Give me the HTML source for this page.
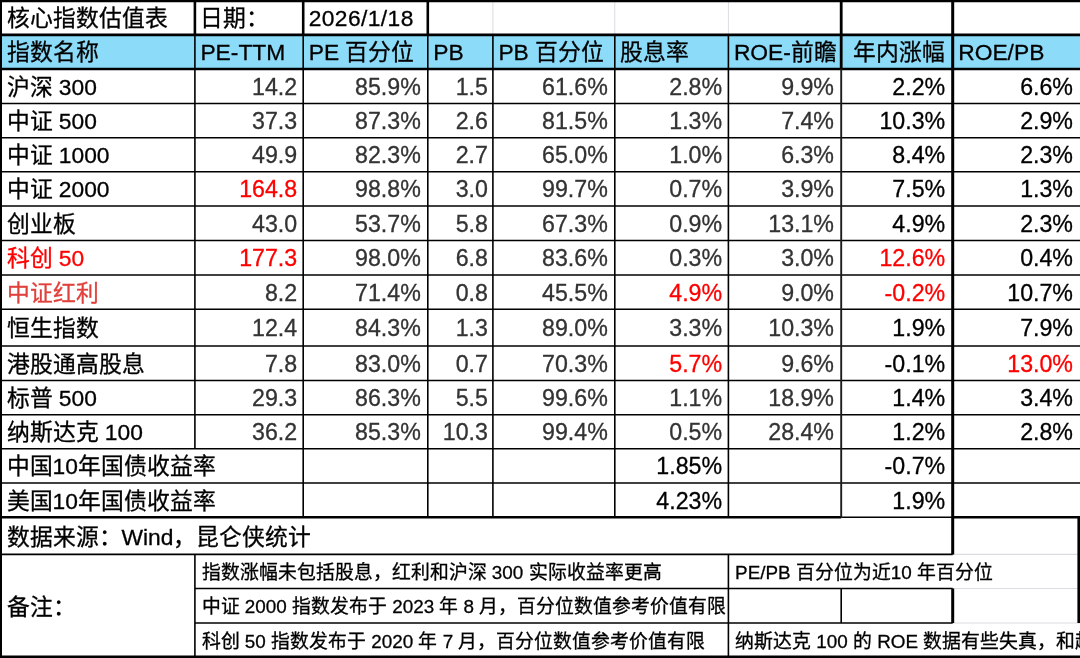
<!DOCTYPE html>
<html lang="zh-CN">
<head>
<meta charset="utf-8">
<title>核心指数估值表</title>
<style>
html,body{margin:0;padding:0;background:#ffffff;}
body{width:1080px;height:658px;overflow:hidden;position:relative;font-family:"Liberation Sans",sans-serif;color:#000;}
#sheet{position:absolute;left:0;top:0;width:1080px;height:658px;overflow:hidden;background:#fff;-webkit-font-smoothing:antialiased;}
#txt{position:absolute;left:0;top:0;width:1080px;height:658px;will-change:transform;-webkit-text-stroke:0.3px;}
#hdr{position:absolute;left:0;top:34.85px;width:1080px;height:34.15px;background:#8cdcf9;}
.c{position:absolute;white-space:nowrap;box-sizing:border-box;padding:0 6.0px 0 5.5px;font-size:22.8px;overflow:visible;}
.r{text-align:right;font-size:23.2px;}
.m{text-align:center;}
.n{font-size:18.85px;}
.g{color:#333333;}
.d{color:#ff0000;}
.e{color:#e0403c;}
svg{position:absolute;left:0;top:0;}
</style>
</head>
<body>
<div id="sheet">
<div id="hdr"></div>
<div id="txt">
<div class="c" style="left:1.00px;top:1.50px;width:193.90px;height:33.95px;line-height:33.95px;">核心指数估值表</div>
<div class="c" style="left:194.90px;top:1.50px;width:108.30px;height:33.95px;line-height:33.95px;">日期：</div>
<div class="c" style="left:303.20px;top:1.50px;width:124.60px;height:33.95px;line-height:33.95px;letter-spacing:.4px;">2026/1/18</div>
<div class="c" style="left:1.00px;top:35.45px;width:193.90px;height:34.15px;line-height:34.15px;">指数名称</div>
<div class="c" style="left:194.90px;top:35.45px;width:108.30px;height:34.15px;line-height:34.15px;">PE-TTM</div>
<div class="c" style="left:303.20px;top:35.45px;width:124.60px;height:34.15px;line-height:34.15px;">PE 百分位</div>
<div class="c" style="left:427.80px;top:35.45px;width:65.10px;height:34.15px;line-height:34.15px;">PB</div>
<div class="c" style="left:492.90px;top:35.45px;width:121.90px;height:34.15px;line-height:34.15px;">PB 百分位</div>
<div class="c" style="left:614.80px;top:35.45px;width:113.60px;height:34.15px;line-height:34.15px;">股息率</div>
<div class="c" style="left:728.40px;top:35.45px;width:112.80px;height:34.15px;line-height:34.15px;">ROE-前瞻</div>
<div class="c r" style="left:839.70px;top:35.45px;width:111.50px;height:34.15px;line-height:34.15px;font-size:22.8px;">年内涨幅</div>
<div class="c" style="left:952.70px;top:35.45px;width:133.30px;height:34.15px;line-height:34.15px;">ROE/PB</div>
<div class="c" style="left:1.00px;top:69.60px;width:193.90px;height:34.60px;line-height:34.60px;">沪深 300</div>
<div class="c r g" style="left:194.90px;top:69.60px;width:108.30px;height:34.60px;line-height:34.60px;">14.2</div>
<div class="c r g" style="left:302.20px;top:69.60px;width:124.60px;height:34.60px;line-height:34.60px;">85.9%</div>
<div class="c r g" style="left:428.80px;top:69.60px;width:65.10px;height:34.60px;line-height:34.60px;">1.5</div>
<div class="c r g" style="left:491.90px;top:69.60px;width:121.90px;height:34.60px;line-height:34.60px;">61.6%</div>
<div class="c r g" style="left:614.50px;top:69.60px;width:113.60px;height:34.60px;line-height:34.60px;">2.8%</div>
<div class="c r g" style="left:727.20px;top:69.60px;width:112.80px;height:34.60px;line-height:34.60px;">9.9%</div>
<div class="c r" style="left:839.70px;top:69.60px;width:111.50px;height:34.60px;line-height:34.60px;">2.2%</div>
<div class="c r" style="left:952.70px;top:69.60px;width:126.30px;height:34.60px;line-height:34.60px;">6.6%</div>
<div class="c" style="left:1.00px;top:104.20px;width:193.90px;height:34.10px;line-height:34.10px;">中证 500</div>
<div class="c r g" style="left:194.90px;top:104.20px;width:108.30px;height:34.10px;line-height:34.10px;">37.3</div>
<div class="c r g" style="left:302.20px;top:104.20px;width:124.60px;height:34.10px;line-height:34.10px;">87.3%</div>
<div class="c r g" style="left:428.80px;top:104.20px;width:65.10px;height:34.10px;line-height:34.10px;">2.6</div>
<div class="c r g" style="left:491.90px;top:104.20px;width:121.90px;height:34.10px;line-height:34.10px;">81.5%</div>
<div class="c r g" style="left:614.50px;top:104.20px;width:113.60px;height:34.10px;line-height:34.10px;">1.3%</div>
<div class="c r g" style="left:727.20px;top:104.20px;width:112.80px;height:34.10px;line-height:34.10px;">7.4%</div>
<div class="c r" style="left:839.70px;top:104.20px;width:111.50px;height:34.10px;line-height:34.10px;">10.3%</div>
<div class="c r" style="left:952.70px;top:104.20px;width:126.30px;height:34.10px;line-height:34.10px;">2.9%</div>
<div class="c" style="left:1.00px;top:138.30px;width:193.90px;height:34.00px;line-height:34.00px;">中证 1000</div>
<div class="c r g" style="left:194.90px;top:138.30px;width:108.30px;height:34.00px;line-height:34.00px;">49.9</div>
<div class="c r g" style="left:302.20px;top:138.30px;width:124.60px;height:34.00px;line-height:34.00px;">82.3%</div>
<div class="c r g" style="left:428.80px;top:138.30px;width:65.10px;height:34.00px;line-height:34.00px;">2.7</div>
<div class="c r g" style="left:491.90px;top:138.30px;width:121.90px;height:34.00px;line-height:34.00px;">65.0%</div>
<div class="c r g" style="left:614.50px;top:138.30px;width:113.60px;height:34.00px;line-height:34.00px;">1.0%</div>
<div class="c r g" style="left:727.20px;top:138.30px;width:112.80px;height:34.00px;line-height:34.00px;">6.3%</div>
<div class="c r" style="left:839.70px;top:138.30px;width:111.50px;height:34.00px;line-height:34.00px;">8.4%</div>
<div class="c r" style="left:952.70px;top:138.30px;width:126.30px;height:34.00px;line-height:34.00px;">2.3%</div>
<div class="c" style="left:1.00px;top:172.30px;width:193.90px;height:34.30px;line-height:34.30px;">中证 2000</div>
<div class="c r d" style="left:194.90px;top:172.30px;width:108.30px;height:34.30px;line-height:34.30px;">164.8</div>
<div class="c r g" style="left:302.20px;top:172.30px;width:124.60px;height:34.30px;line-height:34.30px;">98.8%</div>
<div class="c r g" style="left:428.80px;top:172.30px;width:65.10px;height:34.30px;line-height:34.30px;">3.0</div>
<div class="c r g" style="left:491.90px;top:172.30px;width:121.90px;height:34.30px;line-height:34.30px;">99.7%</div>
<div class="c r g" style="left:614.50px;top:172.30px;width:113.60px;height:34.30px;line-height:34.30px;">0.7%</div>
<div class="c r g" style="left:727.20px;top:172.30px;width:112.80px;height:34.30px;line-height:34.30px;">3.9%</div>
<div class="c r" style="left:839.70px;top:172.30px;width:111.50px;height:34.30px;line-height:34.30px;">7.5%</div>
<div class="c r" style="left:952.70px;top:172.30px;width:126.30px;height:34.30px;line-height:34.30px;">1.3%</div>
<div class="c" style="left:1.00px;top:206.60px;width:193.90px;height:34.50px;line-height:34.50px;">创业板</div>
<div class="c r g" style="left:194.90px;top:206.60px;width:108.30px;height:34.50px;line-height:34.50px;">43.0</div>
<div class="c r g" style="left:302.20px;top:206.60px;width:124.60px;height:34.50px;line-height:34.50px;">53.7%</div>
<div class="c r g" style="left:428.80px;top:206.60px;width:65.10px;height:34.50px;line-height:34.50px;">5.8</div>
<div class="c r g" style="left:491.90px;top:206.60px;width:121.90px;height:34.50px;line-height:34.50px;">67.3%</div>
<div class="c r g" style="left:614.50px;top:206.60px;width:113.60px;height:34.50px;line-height:34.50px;">0.9%</div>
<div class="c r g" style="left:727.20px;top:206.60px;width:112.80px;height:34.50px;line-height:34.50px;">13.1%</div>
<div class="c r" style="left:839.70px;top:206.60px;width:111.50px;height:34.50px;line-height:34.50px;">4.9%</div>
<div class="c r" style="left:952.70px;top:206.60px;width:126.30px;height:34.50px;line-height:34.50px;">2.3%</div>
<div class="c d" style="left:1.00px;top:241.10px;width:193.90px;height:34.50px;line-height:34.50px;">科创 50</div>
<div class="c r d" style="left:194.90px;top:241.10px;width:108.30px;height:34.50px;line-height:34.50px;">177.3</div>
<div class="c r g" style="left:302.20px;top:241.10px;width:124.60px;height:34.50px;line-height:34.50px;">98.0%</div>
<div class="c r g" style="left:428.80px;top:241.10px;width:65.10px;height:34.50px;line-height:34.50px;">6.8</div>
<div class="c r g" style="left:491.90px;top:241.10px;width:121.90px;height:34.50px;line-height:34.50px;">83.6%</div>
<div class="c r g" style="left:614.50px;top:241.10px;width:113.60px;height:34.50px;line-height:34.50px;">0.3%</div>
<div class="c r g" style="left:727.20px;top:241.10px;width:112.80px;height:34.50px;line-height:34.50px;">3.0%</div>
<div class="c r d" style="left:839.70px;top:241.10px;width:111.50px;height:34.50px;line-height:34.50px;">12.6%</div>
<div class="c r" style="left:952.70px;top:241.10px;width:126.30px;height:34.50px;line-height:34.50px;">0.4%</div>
<div class="c e" style="left:1.00px;top:275.60px;width:193.90px;height:34.25px;line-height:34.25px;">中证红利</div>
<div class="c r g" style="left:194.90px;top:275.60px;width:108.30px;height:34.25px;line-height:34.25px;">8.2</div>
<div class="c r g" style="left:302.20px;top:275.60px;width:124.60px;height:34.25px;line-height:34.25px;">71.4%</div>
<div class="c r g" style="left:428.80px;top:275.60px;width:65.10px;height:34.25px;line-height:34.25px;">0.8</div>
<div class="c r g" style="left:491.90px;top:275.60px;width:121.90px;height:34.25px;line-height:34.25px;">45.5%</div>
<div class="c r d" style="left:614.50px;top:275.60px;width:113.60px;height:34.25px;line-height:34.25px;">4.9%</div>
<div class="c r g" style="left:727.20px;top:275.60px;width:112.80px;height:34.25px;line-height:34.25px;">9.0%</div>
<div class="c r d" style="left:839.70px;top:275.60px;width:111.50px;height:34.25px;line-height:34.25px;">-0.2%</div>
<div class="c r" style="left:952.70px;top:275.60px;width:126.30px;height:34.25px;line-height:34.25px;">10.7%</div>
<div class="c" style="left:1.00px;top:309.85px;width:193.90px;height:36.75px;line-height:36.75px;">恒生指数</div>
<div class="c r g" style="left:194.90px;top:309.85px;width:108.30px;height:36.75px;line-height:36.75px;">12.4</div>
<div class="c r g" style="left:302.20px;top:309.85px;width:124.60px;height:36.75px;line-height:36.75px;">84.3%</div>
<div class="c r g" style="left:428.80px;top:309.85px;width:65.10px;height:36.75px;line-height:36.75px;">1.3</div>
<div class="c r g" style="left:491.90px;top:309.85px;width:121.90px;height:36.75px;line-height:36.75px;">89.0%</div>
<div class="c r g" style="left:614.50px;top:309.85px;width:113.60px;height:36.75px;line-height:36.75px;">3.3%</div>
<div class="c r g" style="left:727.20px;top:309.85px;width:112.80px;height:36.75px;line-height:36.75px;">10.3%</div>
<div class="c r" style="left:839.70px;top:309.85px;width:111.50px;height:36.75px;line-height:36.75px;">1.9%</div>
<div class="c r" style="left:952.70px;top:309.85px;width:126.30px;height:36.75px;line-height:36.75px;">7.9%</div>
<div class="c" style="left:1.00px;top:346.60px;width:193.90px;height:34.40px;line-height:34.40px;">港股通高股息</div>
<div class="c r g" style="left:194.90px;top:346.60px;width:108.30px;height:34.40px;line-height:34.40px;">7.8</div>
<div class="c r g" style="left:302.20px;top:346.60px;width:124.60px;height:34.40px;line-height:34.40px;">83.0%</div>
<div class="c r g" style="left:428.80px;top:346.60px;width:65.10px;height:34.40px;line-height:34.40px;">0.7</div>
<div class="c r g" style="left:491.90px;top:346.60px;width:121.90px;height:34.40px;line-height:34.40px;">70.3%</div>
<div class="c r d" style="left:614.50px;top:346.60px;width:113.60px;height:34.40px;line-height:34.40px;">5.7%</div>
<div class="c r g" style="left:727.20px;top:346.60px;width:112.80px;height:34.40px;line-height:34.40px;">9.6%</div>
<div class="c r" style="left:839.70px;top:346.60px;width:111.50px;height:34.40px;line-height:34.40px;">-0.1%</div>
<div class="c r d" style="left:952.70px;top:346.60px;width:126.30px;height:34.40px;line-height:34.40px;">13.0%</div>
<div class="c" style="left:1.00px;top:381.00px;width:193.90px;height:34.30px;line-height:34.30px;">标普 500</div>
<div class="c r g" style="left:194.90px;top:381.00px;width:108.30px;height:34.30px;line-height:34.30px;">29.3</div>
<div class="c r g" style="left:302.20px;top:381.00px;width:124.60px;height:34.30px;line-height:34.30px;">86.3%</div>
<div class="c r g" style="left:428.80px;top:381.00px;width:65.10px;height:34.30px;line-height:34.30px;">5.5</div>
<div class="c r g" style="left:491.90px;top:381.00px;width:121.90px;height:34.30px;line-height:34.30px;">99.6%</div>
<div class="c r g" style="left:614.50px;top:381.00px;width:113.60px;height:34.30px;line-height:34.30px;">1.1%</div>
<div class="c r g" style="left:727.20px;top:381.00px;width:112.80px;height:34.30px;line-height:34.30px;">18.9%</div>
<div class="c r" style="left:839.70px;top:381.00px;width:111.50px;height:34.30px;line-height:34.30px;">1.4%</div>
<div class="c r" style="left:952.70px;top:381.00px;width:126.30px;height:34.30px;line-height:34.30px;">3.4%</div>
<div class="c" style="left:1.00px;top:415.30px;width:193.90px;height:34.00px;line-height:34.00px;">纳斯达克 100</div>
<div class="c r g" style="left:194.90px;top:415.30px;width:108.30px;height:34.00px;line-height:34.00px;">36.2</div>
<div class="c r g" style="left:302.20px;top:415.30px;width:124.60px;height:34.00px;line-height:34.00px;">85.3%</div>
<div class="c r g" style="left:428.80px;top:415.30px;width:65.10px;height:34.00px;line-height:34.00px;">10.3</div>
<div class="c r g" style="left:491.90px;top:415.30px;width:121.90px;height:34.00px;line-height:34.00px;">99.4%</div>
<div class="c r g" style="left:614.50px;top:415.30px;width:113.60px;height:34.00px;line-height:34.00px;">0.5%</div>
<div class="c r g" style="left:727.20px;top:415.30px;width:112.80px;height:34.00px;line-height:34.00px;">28.4%</div>
<div class="c r" style="left:839.70px;top:415.30px;width:111.50px;height:34.00px;line-height:34.00px;">1.2%</div>
<div class="c r" style="left:952.70px;top:415.30px;width:126.30px;height:34.00px;line-height:34.00px;">2.8%</div>
<div class="c" style="left:1.00px;top:449.30px;width:302.20px;height:34.30px;line-height:34.30px;">中国10年国债收益率</div>
<div class="c r" style="left:614.50px;top:449.30px;width:113.60px;height:34.30px;line-height:34.30px;">1.85%</div>
<div class="c r" style="left:839.70px;top:449.30px;width:111.50px;height:34.30px;line-height:34.30px;">-0.7%</div>
<div class="c" style="left:1.00px;top:483.60px;width:302.20px;height:34.20px;line-height:34.20px;">美国10年国债收益率</div>
<div class="c r" style="left:614.50px;top:483.60px;width:113.60px;height:34.20px;line-height:34.20px;">4.23%</div>
<div class="c r" style="left:839.70px;top:483.60px;width:111.50px;height:34.20px;line-height:34.20px;">1.9%</div>
<div class="c" style="left:1.00px;top:518.80px;width:951.70px;height:37.20px;line-height:37.20px;">数据来源：Wind，昆仑侠统计</div>
<div class="c" style="left:1.00px;top:556.20px;width:193.90px;height:102.40px;line-height:102.40px;">备注：</div>
<div class="c n" style="left:196.10px;top:556.00px;width:533.50px;height:34.10px;line-height:34.10px;">指数涨幅未包括股息，红利和沪深 300 实际收益率更高</div>
<div class="c n" style="left:196.10px;top:590.10px;width:533.50px;height:34.50px;line-height:34.50px;">中证 2000 指数发布于 2023 年 8 月，百分位数值参考价值有限</div>
<div class="c n" style="left:196.10px;top:624.60px;width:533.50px;height:33.80px;line-height:33.80px;">科创 50 指数发布于 2020 年 7 月，百分位数值参考价值有限</div>
<div class="c n" style="left:729.60px;top:556.00px;width:351.60px;height:34.10px;line-height:34.10px;">PE/PB 百分位为近10 年百分位</div>
<div class="c n" style="left:729.60px;top:624.60px;width:471.60px;height:33.80px;line-height:33.80px;">纳斯达克 100 的 ROE 数据有些失真，和超额收益有关</div>
</div>
<svg width="1080" height="658" viewBox="0 0 1080 658" fill="none">
<line x1="492.90" y1="0.90" x2="492.90" y2="34.85" stroke="#dcdce2" stroke-width="1.00"/>
<line x1="614.80" y1="0.90" x2="614.80" y2="34.85" stroke="#dcdce2" stroke-width="1.00"/>
<line x1="728.40" y1="0.90" x2="728.40" y2="34.85" stroke="#dcdce2" stroke-width="1.00"/>
<line x1="952.70" y1="554.40" x2="1080.00" y2="554.40" stroke="#dcdce2" stroke-width="1.20"/>
<line x1="952.70" y1="588.50" x2="1080.00" y2="588.50" stroke="#dcdce2" stroke-width="1.20"/>
<line x1="952.70" y1="623.00" x2="1080.00" y2="623.00" stroke="#dcdce2" stroke-width="1.20"/>
<line x1="0.00" y1="0.90" x2="1080.00" y2="0.90" stroke="#000" stroke-width="2.60"/>
<line x1="0.00" y1="34.85" x2="1080.00" y2="34.85" stroke="#000" stroke-width="2.60"/>
<line x1="0.00" y1="69.00" x2="1080.00" y2="69.00" stroke="#000" stroke-width="2.60"/>
<line x1="0.00" y1="103.60" x2="1080.00" y2="103.60" stroke="#000" stroke-width="1.50"/>
<line x1="0.00" y1="137.70" x2="1080.00" y2="137.70" stroke="#000" stroke-width="1.50"/>
<line x1="0.00" y1="171.70" x2="1080.00" y2="171.70" stroke="#000" stroke-width="1.50"/>
<line x1="0.00" y1="206.00" x2="1080.00" y2="206.00" stroke="#000" stroke-width="1.50"/>
<line x1="0.00" y1="240.50" x2="1080.00" y2="240.50" stroke="#000" stroke-width="1.50"/>
<line x1="0.00" y1="275.00" x2="1080.00" y2="275.00" stroke="#000" stroke-width="1.50"/>
<line x1="0.00" y1="309.25" x2="1080.00" y2="309.25" stroke="#000" stroke-width="1.50"/>
<line x1="0.00" y1="346.00" x2="1080.00" y2="346.00" stroke="#000" stroke-width="1.50"/>
<line x1="0.00" y1="380.40" x2="1080.00" y2="380.40" stroke="#000" stroke-width="1.50"/>
<line x1="0.00" y1="414.70" x2="1080.00" y2="414.70" stroke="#000" stroke-width="1.50"/>
<line x1="0.00" y1="448.70" x2="1080.00" y2="448.70" stroke="#000" stroke-width="1.50"/>
<line x1="0.00" y1="483.00" x2="1080.00" y2="483.00" stroke="#000" stroke-width="1.50"/>
<line x1="0.00" y1="517.20" x2="841.20" y2="517.20" stroke="#000" stroke-width="2.60"/>
<line x1="841.20" y1="517.20" x2="952.70" y2="517.20" stroke="#000" stroke-width="1.40"/>
<line x1="952.70" y1="517.20" x2="1080.00" y2="517.20" stroke="#000" stroke-width="2.60"/>
<line x1="0.00" y1="554.40" x2="952.70" y2="554.40" stroke="#000" stroke-width="1.60"/>
<line x1="194.90" y1="588.50" x2="952.70" y2="588.50" stroke="#000" stroke-width="1.50"/>
<line x1="194.90" y1="623.00" x2="952.70" y2="623.00" stroke="#000" stroke-width="1.50"/>
<line x1="0.00" y1="656.80" x2="1080.00" y2="656.80" stroke="#000" stroke-width="2.60"/>
<line x1="1.00" y1="0.90" x2="1.00" y2="656.80" stroke="#000" stroke-width="2.00"/>
<line x1="194.90" y1="0.90" x2="194.90" y2="34.85" stroke="#000" stroke-width="2.60"/>
<line x1="194.90" y1="34.85" x2="194.90" y2="448.70" stroke="#000" stroke-width="1.60"/>
<line x1="194.90" y1="554.40" x2="194.90" y2="656.80" stroke="#000" stroke-width="1.60"/>
<line x1="303.20" y1="0.90" x2="303.20" y2="34.85" stroke="#000" stroke-width="2.60"/>
<line x1="303.20" y1="34.85" x2="303.20" y2="517.20" stroke="#000" stroke-width="1.60"/>
<line x1="427.80" y1="0.90" x2="427.80" y2="34.85" stroke="#000" stroke-width="2.60"/>
<line x1="427.80" y1="34.85" x2="427.80" y2="517.20" stroke="#000" stroke-width="1.60"/>
<line x1="492.90" y1="34.85" x2="492.90" y2="517.20" stroke="#000" stroke-width="1.60"/>
<line x1="614.80" y1="34.85" x2="614.80" y2="517.20" stroke="#000" stroke-width="1.60"/>
<line x1="728.40" y1="34.85" x2="728.40" y2="517.20" stroke="#000" stroke-width="1.60"/>
<line x1="728.40" y1="554.40" x2="728.40" y2="656.80" stroke="#000" stroke-width="1.60"/>
<line x1="841.20" y1="0.90" x2="841.20" y2="69.00" stroke="#000" stroke-width="2.80"/>
<line x1="841.20" y1="69.00" x2="841.20" y2="517.20" stroke="#1c1c1c" stroke-width="1.90"/>
<line x1="841.20" y1="588.50" x2="841.20" y2="623.00" stroke="#000" stroke-width="1.60"/>
<line x1="952.70" y1="0.90" x2="952.70" y2="554.40" stroke="#000" stroke-width="3.00"/>
<line x1="952.70" y1="588.50" x2="952.70" y2="623.00" stroke="#000" stroke-width="3.00"/>
<line x1="1078.90" y1="517.20" x2="1078.90" y2="623.00" stroke="#000" stroke-width="3.00"/>
</svg>
</div>
</body>
</html>
